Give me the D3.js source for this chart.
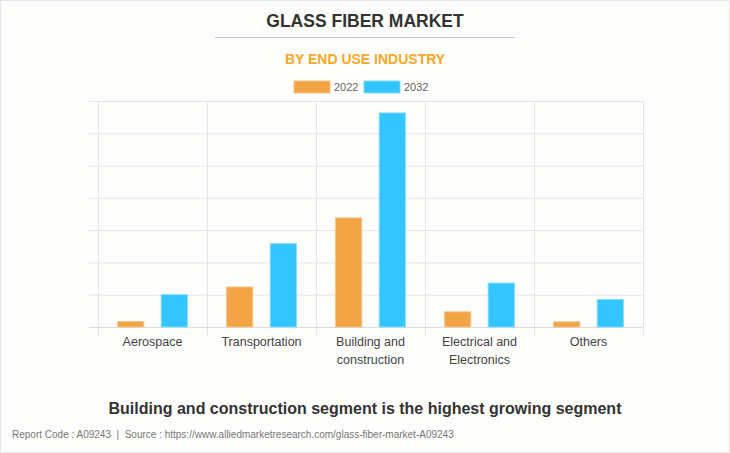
<!DOCTYPE html>
<html>
<head>
<meta charset="utf-8">
<script src="https://cdn.jsdelivr.net/npm/d3@7"></script>
<style>
  html, body { margin: 0; padding: 0; background: #fff; }
  svg { display: block; font-family: "Liberation Sans", Arial, sans-serif; }
</style>
</head>
<body>
<svg width="730" height="453"></svg>
<script>
// glass fiber market, by end use industry

var categories = ["Aerospace", "Transportation", "Building and construction", "Electrical and Electronics", "Others"];
var categoryLabels = [["Aerospace"], ["Transportation"], ["Building and", "construction"], ["Electrical and", "Electronics"], ["Others"]];
var years = ["2022", "2032"];
var values2022 = [0.17, 1.24, 3.38, 0.47, 0.16];
var values2032 = [1.0, 2.58, 6.63, 1.36, 0.85];
var yTicks = [0, 1, 2, 3, 4, 5, 6, 7];

var colors = { "2022": "#f2a444", "2032": "#32c5fe" };
var borders = { "2022": "#f6c48a", "2032": "#7fdcff" };

var svg = d3.select("svg"),
  W = +svg.attr("width"),
  H = +svg.attr("height"),
  margin = { top: 101, right: 87, bottom: 126, left: 98 },
  width = W - margin.left - margin.right,
  height = H - margin.top - margin.bottom;

// background + frame
svg.append("rect")
  .attr("x", 0.5).attr("y", 0.5)
  .attr("width", W - 1).attr("height", H - 1)
  .attr("fill", "#fdfdfc")
  .attr("stroke", "#e6e6e6");

// titles
svg.append("text")
  .attr("x", W / 2).attr("y", 27)
  .attr("text-anchor", "middle")
  .attr("font-size", "17.5px").attr("font-weight", "bold")
  .attr("fill", "#333")
  .text("GLASS FIBER MARKET");

svg.append("line")
  .attr("x1", 215).attr("x2", 515)
  .attr("y1", 37.5).attr("y2", 37.5)
  .attr("stroke", "#c8c8c8");

svg.append("text")
  .attr("x", W / 2).attr("y", 64)
  .attr("text-anchor", "middle")
  .attr("font-size", "14px").attr("font-weight", "bold")
  .attr("fill", "#f8a825")
  .text("BY END USE INDUSTRY");

// legend
var legend = svg.append("g").attr("transform", "translate(294,81)");
years.forEach(function (yr, i) {
  var lg = legend.append("g").attr("transform", "translate(" + (i * 70) + ",0)");
  lg.append("rect")
    .attr("width", 36).attr("height", 12)
    .attr("fill", colors[yr])
    .attr("stroke", borders[yr]).attr("stroke-width", 1);
  lg.append("text")
    .attr("x", 40).attr("y", 10)
    .attr("font-size", "11px").attr("fill", "#666")
    .text(yr);
});

var g = svg.append("g").attr("transform", "translate(" + margin.left + "," + margin.top + ")");

var x0 = d3.scaleBand()
  .domain(categories)
  .range([0, width])
  .padding(0);

var x1 = d3.scaleBand()
  .domain(years)
  .range([x0.bandwidth() * 0.1, x0.bandwidth() * 0.9])
  .paddingInner(0.4)
  .paddingOuter(0.2);

var y = d3.scaleLinear()
  .domain([0, 7])
  .range([height, 0]);

// horizontal grid
g.append("g")
  .attr("class", "grid")
  .call(d3.axisLeft(y).tickValues(yTicks).tickSize(-width - 9).tickFormat(""))
  .attr("transform", "translate(" + width + ",0)")
  .call(function (s) {
    s.select(".domain").remove();
    s.selectAll("line").attr("stroke", "#e4e4e4").attr("x1", 0).attr("x2", -width - 9);
  });

// vertical grid (category boundaries)
var bounds = categories.map(function (c) { return x0(c); }).concat([width]);
g.append("g")
  .selectAll("line")
  .data(bounds)
  .enter().append("line")
  .attr("x1", function (d) { return Math.round(d) + 0.5; })
  .attr("x2", function (d) { return Math.round(d) + 0.5; })
  .attr("y1", 0)
  .attr("y2", height + 8)
  .attr("stroke", "#e6e6e6");

// baseline
g.append("line")
  .attr("x1", -9).attr("x2", width)
  .attr("y1", height + 0.5).attr("y2", height + 0.5)
  .attr("stroke", "#dcdcdc");

// bars
var rows = categories.map(function (c, i) {
  return { cat: c, vals: [{ yr: "2022", v: values2022[i] }, { yr: "2032", v: values2032[i] }] };
});

var groups = g.selectAll(".grp")
  .data(rows)
  .enter().append("g")
  .attr("class", "grp")
  .attr("transform", function (d) { return "translate(" + x0(d.cat) + ",0)"; });

groups.selectAll("rect")
  .data(function (d) { return d.vals; })
  .enter().append("rect")
  .attr("x", function (d) { return x1(d.yr); })
  .attr("width", x1.bandwidth())
  .attr("y", function (d) { return y(d.v); })
  .attr("height", function (d) { return height - y(d.v); })
  .attr("fill", function (d) { return colors[d.yr]; })
  .attr("stroke", function (d) { return borders[d.yr]; })
  .attr("stroke-width", 1);

// x labels
var xl = g.append("g")
  .attr("transform", "translate(0," + height + ")")
  .selectAll("text")
  .data(categories)
  .enter().append("text")
  .attr("text-anchor", "middle")
  .attr("font-size", "12.5px")
  .attr("fill", "#444")
  .attr("x", function (d) { return x0(d) + x0.bandwidth() / 2; });

xl.each(function (d, i) {
  var t = d3.select(this);
  categoryLabels[i].forEach(function (line, j) {
    t.append("tspan")
      .attr("x", x0(d) + x0.bandwidth() / 2)
      .attr("y", 19 + j * 18)
      .text(line);
  });
});

// footnote
svg.append("text")
  .attr("x", W / 2).attr("y", 414)
  .attr("text-anchor", "middle")
  .attr("font-size", "16px").attr("font-weight", "bold")
  .attr("fill", "#333")
  .text("Building and construction segment is the highest growing segment");

svg.append("text")
  .attr("x", 12).attr("y", 438)
  .attr("font-size", "10px")
  .attr("fill", "#777")
  .style("white-space", "pre")
  .text("Report Code : A09243  |  Source : https://www.alliedmarketresearch.com/glass-fiber-market-A09243");
</script>
</body>
</html>
